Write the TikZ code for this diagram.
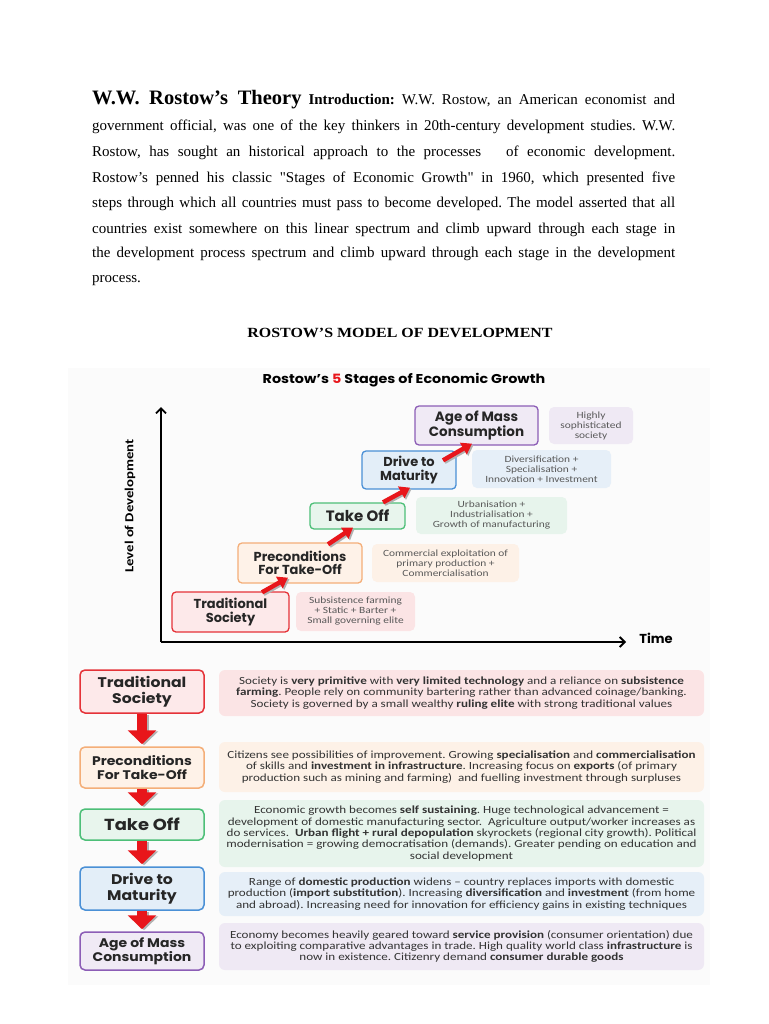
\documentclass[tikz,border=0pt]{standalone}
\usepackage{fontspec}
\setmainfont{Liberation Serif}
\newfontfamily\qfont{Liberation Serif}
\newfontfamily\gothic{Poppins}
\newfontfamily\gothicw{Poppins}[FakeStretch=1.12]
\newfontfamily\calib{Carlito}[FakeStretch=1.2]
\usetikzlibrary{arrows.meta,calc}
\definecolor{redB}{HTML}{E53238}
\definecolor{redF}{HTML}{FDE9EA}
\definecolor{oraB}{HTML}{F4AE78}
\definecolor{oraF}{HTML}{FEF2E8}
\definecolor{greB}{HTML}{4DBF78}
\definecolor{greF}{HTML}{E8F5ED}
\definecolor{bluB}{HTML}{4A90D6}
\definecolor{bluF}{HTML}{E3EEF8}
\definecolor{purB}{HTML}{8C5DB6}
\definecolor{purF}{HTML}{F0EAF5}
\definecolor{dRed}{HTML}{FBE4E5}
\definecolor{dOra}{HTML}{FDF1E7}
\definecolor{dGre}{HTML}{E7F4EC}
\definecolor{dBlu}{HTML}{E6EFF8}
\definecolor{dPur}{HTML}{EFE9F4}
\definecolor{arrowred}{HTML}{E8161B}
\definecolor{txt}{HTML}{333333}
\tikzset{
  cstage/.style={draw, line width=1.3pt, rounded corners=4pt, align=center, inner sep=0pt,
    font=\gothic\bfseries\fontsize{13}{13.5}\selectfont, text=black!85},
  cdesc/.style={rounded corners=5pt, align=center, inner sep=0pt,
    font=\calib\fontsize{9.5}{10}\selectfont, text=black!65},
  bstage/.style={draw, line width=1.5pt, rounded corners=5pt, align=center, inner sep=0pt,
    minimum width=124pt, text=black!85},
  bdesc/.style={rounded corners=6pt, align=center, inner sep=0pt, minimum width=485pt,
    font=\calib\fontsize{10.9}{11.3}\selectfont, text=txt},
  redarrow/.style={draw=arrowred, line width=4.5pt, -{Triangle[width=13pt,length=10pt]}},
  shadowarrow/.style={draw=black!30, line width=4.5pt, -{Triangle[width=13pt,length=10pt]}},
  downarrow/.style={draw=arrowred, line width=10pt, -{Triangle[width=28pt,length=14pt]}},
  downshadow/.style={draw=black!30, line width=10pt, -{Triangle[width=28pt,length=14pt]}},
  para/.style={anchor=base west, inner sep=0pt, font=\fontsize{15}{25.5}\selectfont},
}
\newcommand{\jline}[1]{\makebox[583pt][s]{#1}}
\begin{document}
\frenchspacing
\begin{tikzpicture}[x=1pt,y=-1pt]
\useasboundingbox[fill=white] (0,0) rectangle (768,1024);

% ---------- intro paragraph ----------
\node[para] (l1) at (92,104.5) {\jline{{\fontsize{20.5}{25.5}\selectfont\bfseries W.W. Rostow’s Theory} \textbf{Introduction:} W.W. Rostow, an American economist and}};
\node[para] (l2) at (92,130.5) {\jline{government official, was one of the key thinkers in 20th-century development studies. W.W.}};
\node[para] (l3) at (92,156.5) {\jline{Rostow, has sought an historical approach to the processes \hspace{8pt} of economic development.}};
\node[para] (l4) at (92,182.5) {\jline{Rostow’s penned his classic {\qfont"}Stages of Economic Growth{\qfont"} in 1960, which presented five}};
\node[para] (l5) at (92,207.5) {\jline{steps through which all countries must pass to become developed. The model asserted that all}};
\node[para] (l6) at (92,233.5) {\jline{countries exist somewhere on this linear spectrum and climb upward through each stage in}};
\node[para] (l7) at (92,257.5) {\jline{the development process spectrum and climb upward through each stage in the development}};
\node[para] (l8) at (92,282.5) {process.};

\node[font=\fontsize{14}{16}\selectfont\bfseries, inner sep=0pt] (head) at (400,333) {\scalebox{1.14}[1]{ROSTOW’S MODEL OF DEVELOPMENT}};

% ---------- infographic background ----------
\fill[black!1.5] (68,368) rectangle (710,985);

\node[font=\gothicw\bfseries\fontsize{12.8}{14}\selectfont, inner sep=0pt] (ctitle) at (404,380)
  {Rostow’s {\color{arrowred}5} Stages of Economic Growth};

% axes
\coordinate (O) at (161,642);
\coordinate (Ytop) at (161,407);
\coordinate (Xend) at (626,642);
\draw[line width=1.8pt, -{Straight Barb[length=5pt,width=10pt]}] (O) -- (Ytop);
\draw[line width=1.8pt, -{Straight Barb[length=5pt,width=10pt]}] (O) -- (Xend);
\node[font=\gothic\bfseries\fontsize{13}{14}\selectfont, inner sep=0pt] (time) at (656,638) {Time};
\node[rotate=90, font=\calib\bfseries\fontsize{12.3}{14}\selectfont, inner sep=0pt] (ylab) at (130,506) {Level of Development};

% chart stages
\node[cstage, draw=redB, fill=redF, minimum width=117pt, minimum height=40pt] (c1) at (230.5,612) {Traditional\\Society};
\node[cstage, draw=oraB, fill=oraF, minimum width=124pt, minimum height=40pt] (c2) at (300,563) {Preconditions\\For Take-Off};
\node[cstage, draw=greB, fill=greF, minimum width=95pt, minimum height=26pt, font=\gothic\bfseries\fontsize{15}{16}\selectfont] (c3) at (357.5,516) {Take Off};
\node[cstage, draw=bluB, fill=bluF, minimum width=94pt, minimum height=38pt] (c4) at (409,470) {Drive to\\Maturity};
\node[cstage, draw=purB, fill=purF, minimum width=123pt, minimum height=39pt, font=\gothic\bfseries\fontsize{13.5}{13.5}\selectfont] (c5) at (476.5,425.5) {Age of Mass\\Consumption};

% chart descriptions
\node[cdesc, fill=dRed, minimum width=119pt, minimum height=39pt] (d1) at (355.5,611.5) {Subsistence farming\\+ Static + Barter +\\Small governing elite};
\node[cdesc, fill=dOra, minimum width=147pt, minimum height=38pt] (d2) at (445.5,563) {Commercial exploitation of\\primary production +\\Commercialisation};
\node[cdesc, fill=dGre, minimum width=151pt, minimum height=37pt] (d3) at (491.5,515.5) {Urbanisation +\\Industrialisation +\\Growth of manufacturing};
\node[cdesc, fill=dBlu, minimum width=139pt, minimum height=38pt] (d4) at (541.5,469) {Diversification +\\Specialisation +\\Innovation + Investment};
\node[cdesc, fill=dPur, minimum width=84pt, minimum height=37pt] (d5) at (591,425.5) {Highly\\sophisticated\\society};

% chart arrows
\foreach \s/\e/\ta/\ha in {c1/c2/{31.5,1}/{-12,-6}, c2/c3/{28,2}/{-4.5,-2}, c3/c4/{25.5,0}/{1,-2}} {
  \draw[shadowarrow] ($(\s.north)+(\ta)+(1.5,1.5)$) -- ($(\e.south)+(\ha)+(1.5,1.5)$);
  \draw[redarrow] ($(\s.north)+(\ta)$) -- ($(\e.south)+(\ha)$);
}
\draw[shadowarrow] ($(c4.north)+(35.5,11.5)$) -- ($(c5.south)+(-3,-0.5)$);
\draw[redarrow] ($(c4.north)+(34,10)$) -- ($(c5.south)+(-4.5,-2)$);

% ---------- bottom section ----------
\node[bstage, draw=redB, fill=redF, minimum height=43pt, font=\gothicw\bfseries\fontsize{14}{16}\selectfont] (b1) at (142,691.5) {Traditional\\Society};
\node[bstage, draw=oraB, fill=oraF, minimum height=41pt, font=\gothicw\bfseries\fontsize{12.5}{14}\selectfont] (b2) at (142,767.5) {Preconditions\\For Take-Off};
\node[bstage, draw=greB, fill=greF, minimum height=31pt, font=\gothicw\bfseries\fontsize{16}{16}\selectfont] (b3) at (142,824.5) {Take Off};
\node[bstage, draw=bluB, fill=bluF, minimum height=43pt, font=\gothicw\bfseries\fontsize{14}{15.5}\selectfont] (b4) at (142,888.5) {Drive to\\Maturity};
\node[bstage, draw=purB, fill=purF, minimum height=38pt, font=\gothicw\bfseries\fontsize{12.5}{14}\selectfont] (b5) at (142,951) {Age of Mass\\Consumption};

\foreach \s/\e in {b1/b2, b2/b3, b3/b4, b4/b5} {
  \draw[downshadow] ($(\s.south)+(2,1)$) -- ($(\e.north)+(2,-1)$);
  \draw[downarrow] (\s.south) -- ($(\e.north)+(0,-2)$);
}

\node[bdesc, fill=dRed, minimum height=46pt] (e1) at (461.5,693) {Society is \textbf{very primitive} with \textbf{very limited technology} and a reliance on \textbf{subsistence}\\\textbf{farming}. People rely on community bartering rather than advanced coinage/banking.\\Society is governed by a small wealthy \textbf{ruling elite} with strong traditional values};
\node[bdesc, fill=dOra, minimum height=50pt] (e2) at (461.5,767) {Citizens see possibilities of improvement. Growing \textbf{specialisation} and \textbf{commercialisation}\\of skills and \textbf{investment in infrastructure}. Increasing focus on \textbf{exports} (of primary\\production such as mining and farming)\ \ and fuelling investment through surpluses};
\node[bdesc, fill=dGre, minimum height=67pt] (e3) at (461.5,833.5) {Economic growth becomes \textbf{self sustaining}. Huge technological advancement =\\development of domestic manufacturing sector.\ \ Agriculture output/worker increases as\\do services.\ \ \textbf{Urban flight + rural depopulation} skyrockets (regional city growth). Political\\modernisation = growing democratisation (demands). Greater pending on education and\\social development};
\node[bdesc, fill=dBlu, minimum height=44pt] (e4) at (461.5,894) {Range of \textbf{domestic production} widens – country replaces imports with domestic\\production (\textbf{import substitution}). Increasing \textbf{diversification} and \textbf{investment} (from home\\and abroad). Increasing need for innovation for efficiency gains in existing techniques};
\node[bdesc, fill=dPur, minimum height=47pt] (e5) at (461.5,946.5) {Economy becomes heavily geared toward \textbf{service provision} (consumer orientation) due\\to exploiting comparative advantages in trade. High quality world class \textbf{infrastructure} is\\now in existence. Citizenry demand \textbf{consumer durable goods}};
\end{tikzpicture}
\end{document}
